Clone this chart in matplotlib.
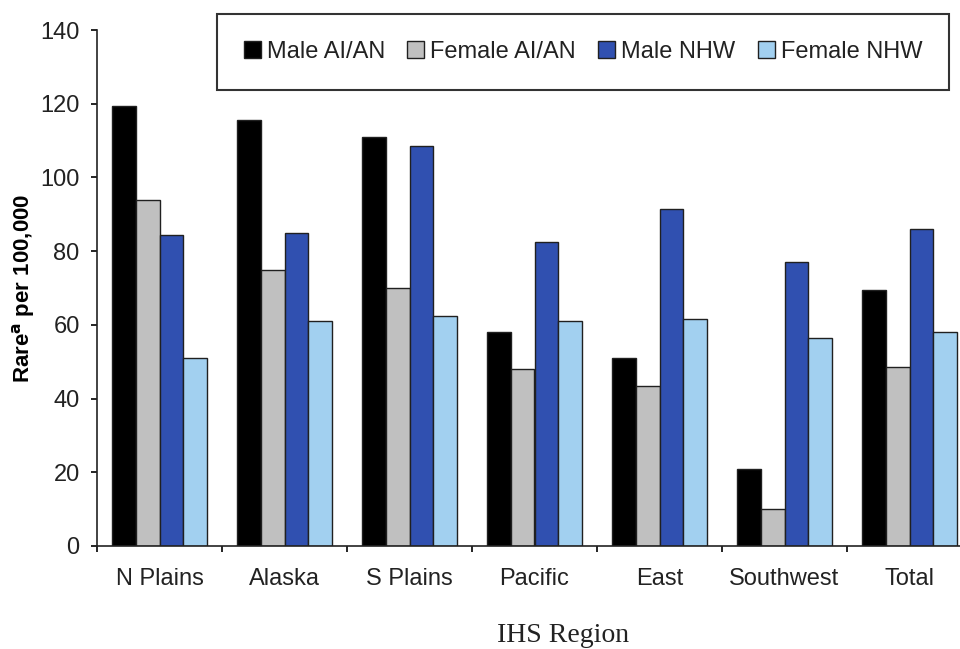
import matplotlib
matplotlib.use("Agg")
import matplotlib.pyplot as plt
import numpy as np

regions = ["N Plains", "Alaska", "S Plains", "Pacific", "East", "Southwest", "Total"]
series_names = ["Male AI/AN", "Female AI/AN", "Male NHW", "Female NHW"]
male_aian = [119.5, 115.5, 111, 58, 51, 21, 69.5]
female_aian = [94, 75, 70, 48, 43.5, 10, 48.5]
male_nhw = [84.5, 85, 108.5, 82.5, 91.5, 77, 86]
female_nhw = [51, 61, 62.5, 61, 61.5, 56.5, 58]
colors = ["#000000", "#c0c0c0", "#3050b0", "#a2d0f0"]

plt.rcParams['font.family'] = ['Liberation Sans', 'DejaVu Sans']

fig = plt.figure(figsize=(9.6, 6.49), dpi=100)
W, H = 960, 649
left, right, top, bottom = 97, 972, 30, 546
ax = fig.add_axes([left / W, 1 - bottom / H, (right - left) / W, (bottom - top) / H])

x = np.arange(len(regions))
bw = 0.19
data = [male_aian, female_aian, male_nhw, female_nhw]
handles = []
for i, (vals, c, name) in enumerate(zip(data, colors, series_names)):
    b = ax.bar(x + (i - 1.5) * bw, vals, bw, color=c, edgecolor="#202020", linewidth=1.0, label=name)
    handles.append(b)

ax.set_xlim(-0.5, 6.5)
ax.set_ylim(0, 140)
ax.set_yticks(np.arange(0, 141, 20))
ax.set_xticks(np.arange(-0.5, 6.6, 1))
ax.set_xticklabels([])
ax.set_xticks(x, minor=True)
ax.set_xticklabels(regions, minor=True)
ax.tick_params(axis="x", which="major", length=4.5, width=1.2, direction="out")
ax.tick_params(axis="x", which="minor", length=0, pad=16, labelsize=17, colors="#222222")
ax.tick_params(axis="y", length=4.5, width=1.2, direction="out", labelsize=17, pad=8, labelcolor="#222222")
for s in ["top", "right"]:
    ax.spines[s].set_visible(False)
for s in ["left", "bottom"]:
    ax.spines[s].set_linewidth(1.2)
    ax.spines[s].set_color("#222222")

ax.set_ylabel("Rare$^{\\mathbf{a}}$ per 100,000", fontsize=16, fontweight="bold")
ax.yaxis.set_label_coords(-60 / 875, 0.5)
fig.text(563 / W, 1 - 636 / H, "IHS Region", fontsize=20, family="Liberation Serif", ha="center", va="center", color="#222222")

leg = fig.legend(handles=handles, loc="center", bbox_to_anchor=(583 / W, 1 - 52 / H),
                 ncol=4, frameon=True, fontsize=17, handlelength=0.72, handleheight=0.72,
                 handletextpad=0.25, columnspacing=0.95, borderpad=1.15, fancybox=False)
leg.get_frame().set_edgecolor("black")
leg.get_frame().set_linewidth(1.5)
for t in leg.get_texts():
    t.set_color("#222222")

fig.savefig("out.png", dpi=100)
